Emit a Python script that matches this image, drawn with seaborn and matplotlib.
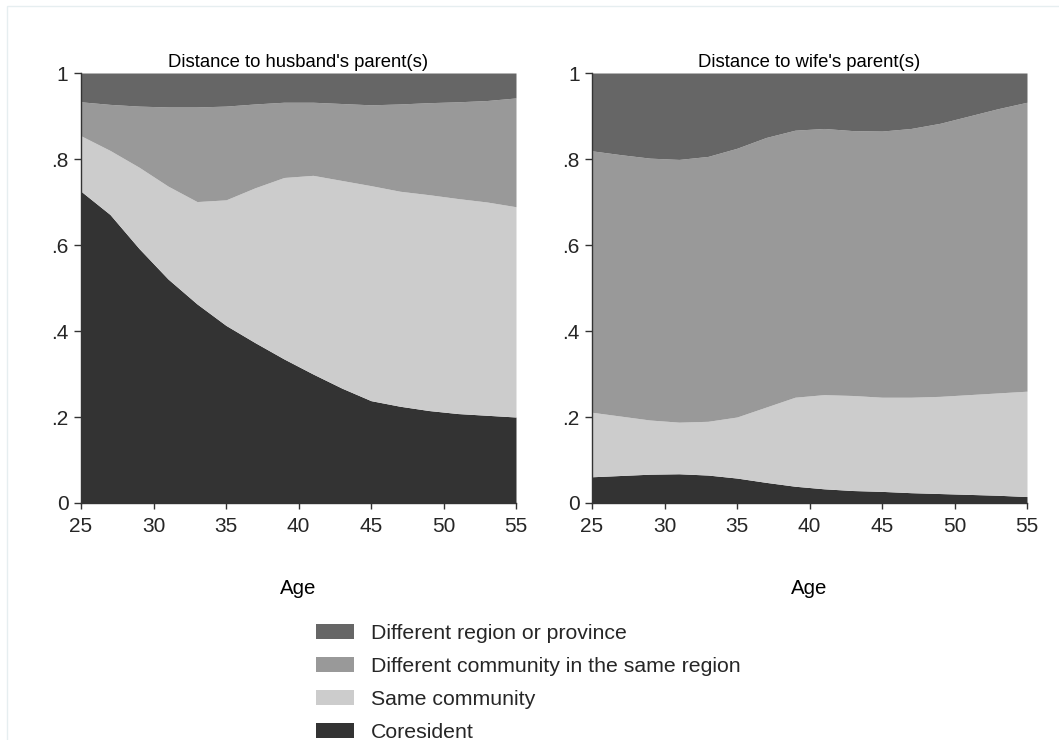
import numpy as np
import matplotlib
matplotlib.use("Agg")
import matplotlib.pyplot as plt
from matplotlib.patches import Patch, Rectangle
import seaborn as sns

# Ages at which the smoothed shares were read
ages = [25, 27, 29, 31, 33, 35, 37, 39, 41, 43, 45, 47, 49, 51, 53, 55]

categories = ["Coresident", "Same community",
              "Different community in the same region", "Different region or province"]

# Husband's parent(s)
husb_coresident = [0.725, 0.671, 0.592, 0.521, 0.463, 0.413, 0.373, 0.335,
                   0.300, 0.267, 0.238, 0.225, 0.215, 0.208, 0.204, 0.200]
husb_same_comm = [0.129, 0.149, 0.189, 0.216, 0.238, 0.292, 0.360, 0.422,
                  0.462, 0.483, 0.500, 0.500, 0.502, 0.500, 0.496, 0.489]
husb_diff_comm = [0.079, 0.107, 0.142, 0.184, 0.220, 0.218, 0.195, 0.175,
                  0.170, 0.179, 0.188, 0.203, 0.214, 0.225, 0.236, 0.253]
husb_diff_region = [0.067, 0.073, 0.077, 0.079, 0.079, 0.077, 0.072, 0.068,
                    0.068, 0.071, 0.074, 0.072, 0.069, 0.067, 0.064, 0.058]

# Wife's parent(s)
wife_coresident = [0.061, 0.064, 0.067, 0.068, 0.065, 0.058, 0.048, 0.039,
                   0.033, 0.029, 0.027, 0.024, 0.022, 0.020, 0.018, 0.015]
wife_same_comm = [0.150, 0.138, 0.126, 0.120, 0.125, 0.142, 0.175, 0.207,
                  0.219, 0.221, 0.219, 0.222, 0.226, 0.232, 0.238, 0.245]
wife_diff_comm = [0.608, 0.608, 0.609, 0.611, 0.616, 0.625, 0.627, 0.621,
                  0.619, 0.616, 0.619, 0.625, 0.635, 0.648, 0.661, 0.672]
wife_diff_region = [0.181, 0.190, 0.198, 0.201, 0.194, 0.175, 0.150, 0.133,
                    0.129, 0.134, 0.135, 0.129, 0.117, 0.100, 0.083, 0.068]

panel_titles = ["Distance to husband's parent(s)", "Distance to wife's parent(s)"]
x_ticks = [25, 30, 35, 40, 45, 50, 55]
y_ticks = [0, 0.2, 0.4, 0.6, 0.8, 1.0]
y_ticklabels = ["0", ".2", ".4", ".6", ".8", "1"]

colors = ["#333333", "#cccccc", "#999999", "#666666"]

sns.set_theme(style="white")
plt.rcParams['font.family'] = ['Liberation Sans', 'DejaVu Sans']

fig = plt.figure(figsize=(10.59, 7.40), dpi=100)
fig.patch.set_facecolor("white")

# faint outer frame like the Stata graph region
fig.patches.append(Rectangle((7 / 1059, -0.1), 1.2, 1 - 6 / 740 + 0.1,
                             transform=fig.transFigure, fill=False,
                             edgecolor="#e6eef0", linewidth=1.0))

panels = [
    (husb_coresident, husb_same_comm, husb_diff_comm, husb_diff_region),
    (wife_coresident, wife_same_comm, wife_diff_comm, wife_diff_region),
]
lefts = [81 / 1059, 592 / 1059]

for left, series, title in zip(lefts, panels, panel_titles):
    ax = fig.add_axes([left, 1 - 503 / 740, 435 / 1059, 430 / 740])
    ax.stackplot(ages, *[np.array(s) for s in series], colors=colors, linewidth=0)
    ax.set_xlim(25, 55)
    ax.set_ylim(0, 1)
    ax.set_xticks(x_ticks)
    ax.set_yticks(y_ticks)
    ax.set_yticklabels(y_ticklabels)
    ax.tick_params(axis="x", direction="out", length=4, width=1, pad=6,
                   labelsize=15, color="#333333", bottom=True)
    ax.tick_params(axis="y", direction="out", length=5, width=1, pad=4,
                   labelsize=15, color="#333333", left=True, labelrotation=0)
    sns.despine(ax=ax)
    for side in ["left", "bottom"]:
        ax.spines[side].set_color("#333333")
        ax.spines[side].set_linewidth(1.0)
    ax.set_title(title, fontsize=13.3, pad=4, color="black")
    ax.set_xlabel("Age", fontsize=14.7, labelpad=31, color="black")
    ax.grid(False)

handles = [Patch(facecolor=c, edgecolor="none") for c in colors[::-1]]
labels = categories[::-1]
fig.legend(handles, labels, loc="upper left",
           bbox_to_anchor=(307 / 1059, 1 - 615 / 740), frameon=False,
           fontsize=15.3, handlelength=1.79, handleheight=0.75,
           handletextpad=0.8, labelspacing=0.65, borderaxespad=0)

fig.savefig("out.png", dpi=100, facecolor="white")
